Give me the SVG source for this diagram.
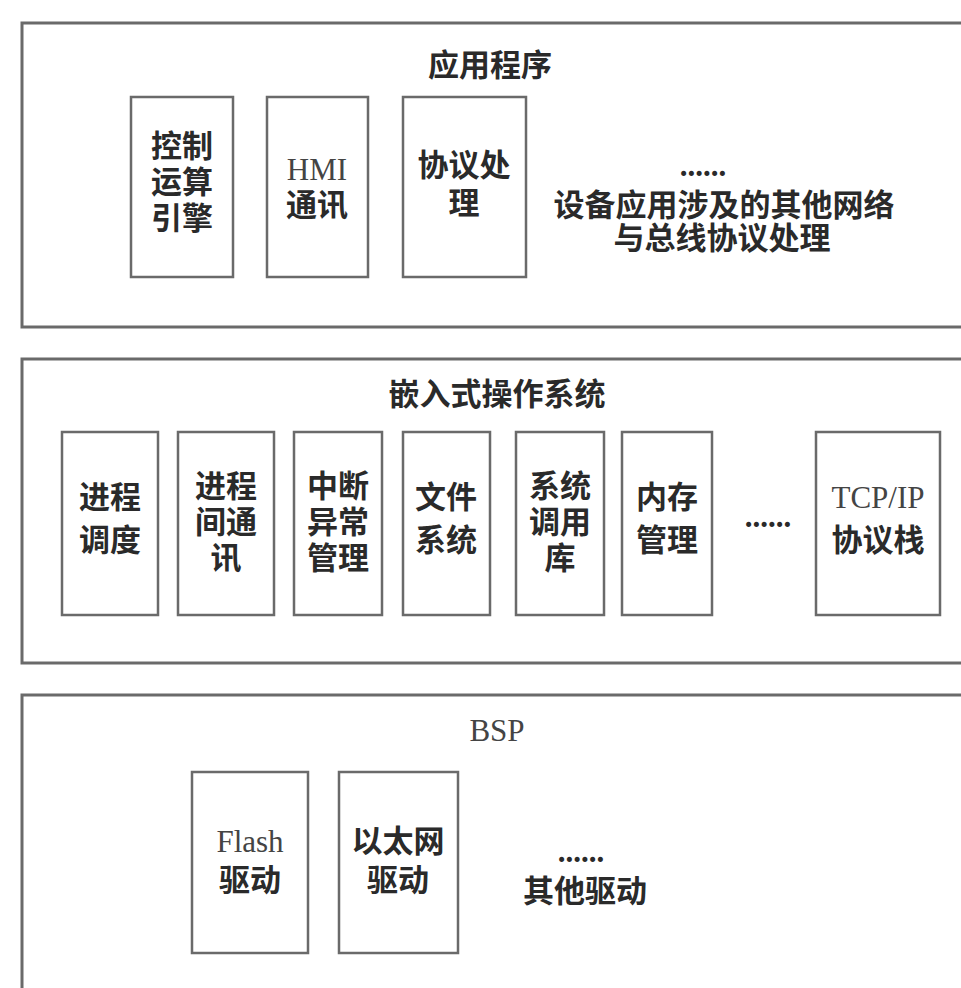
<svg xmlns="http://www.w3.org/2000/svg" width="961" height="988" viewBox="0 0 961 988">
<style>
.outer{fill:#fff;stroke:#6a6a6a;stroke-width:3}
.inner{fill:#fff;stroke:#6a6a6a;stroke-width:2.5}
text{font-family:"Liberation Serif","Noto Sans CJK SC",serif;font-size:31px;fill:#2a2a2a;text-anchor:middle;font-weight:bold}
.lat{font-weight:normal;fill:#444}
</style>
<rect width="961" height="988" fill="#fff"/>
<g id="app">
<rect class="outer" x="22" y="23" width="960" height="304"/>
<text x="490" y="76">应用程序</text>
</g>
<g id="ctrl">
<rect class="inner" x="131" y="97" width="102" height="180"/>
<text x="182" y="157">控制</text><text x="182" y="193">运算</text><text x="182" y="229">引擎</text>
</g>
<g id="hmi">
<rect class="inner" x="267" y="97" width="101" height="180"/>
<text class="lat" x="317" y="180">HMI</text><text x="317" y="216">通讯</text>
</g>
<g id="proto">
<rect class="inner" x="403" y="97" width="123" height="180"/>
<text x="464" y="176">协议处</text><text x="464" y="214">理</text>
</g>
<g id="app-more">
<text x="703" y="176">......</text>
<text x="724" y="216">设备应用涉及的其他网络</text>
<text x="722" y="249">与总线协议处理</text>
</g>
<g id="os">
<rect class="outer" x="22" y="359" width="960" height="304"/>
<text x="497" y="405">嵌入式操作系统</text>
</g>
<g id="sched">
<rect class="inner" x="62" y="432" width="96" height="183"/>
<text x="110" y="508">进程</text><text x="110" y="551">调度</text>
</g>
<g id="ipc">
<rect class="inner" x="178" y="432" width="96" height="183"/>
<text x="226" y="497">进程</text><text x="226" y="533">间通</text><text x="226" y="569">讯</text>
</g>
<g id="irq">
<rect class="inner" x="294" y="432" width="88" height="183"/>
<text x="338" y="497">中断</text><text x="338" y="533">异常</text><text x="338" y="569">管理</text>
</g>
<g id="fs">
<rect class="inner" x="403" y="432" width="87" height="183"/>
<text x="446" y="508">文件</text><text x="446" y="551">系统</text>
</g>
<g id="syscall">
<rect class="inner" x="516" y="432" width="88" height="183"/>
<text x="560" y="497">系统</text><text x="560" y="533">调用</text><text x="560" y="569">库</text>
</g>
<g id="mem">
<rect class="inner" x="622" y="432" width="90" height="183"/>
<text x="667" y="508">内存</text><text x="667" y="551">管理</text>
</g>
<g id="os-more">
<text x="768" y="527">......</text>
</g>
<g id="tcpip">
<rect class="inner" x="816" y="432" width="124" height="183"/>
<text class="lat" x="878" y="508">TCP/IP</text><text x="878" y="551">协议栈</text>
</g>
<g id="bsp">
<rect class="outer" x="22" y="695" width="960" height="320"/>
<text class="lat" x="497" y="741">BSP</text>
</g>
<g id="flash">
<rect class="inner" x="192" y="772" width="116" height="181"/>
<text class="lat" x="250" y="852">Flash</text><text x="250" y="891">驱动</text>
</g>
<g id="eth">
<rect class="inner" x="339" y="772" width="119" height="181"/>
<text x="398" y="852">以太网</text><text x="398" y="891">驱动</text>
</g>
<g id="bsp-more">
<text x="581" y="862">......</text>
<text x="585" y="902">其他驱动</text>
</g>
<g id="connectors"></g>
</svg>
